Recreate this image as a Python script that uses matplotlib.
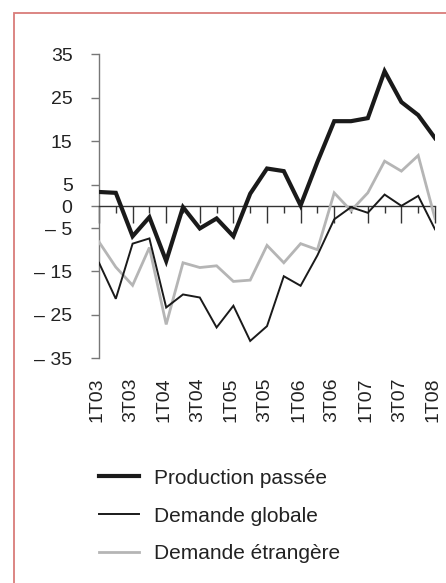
import numpy as np
import matplotlib
matplotlib.use("Agg")
import matplotlib.pyplot as plt
import matplotlib.transforms as mtransforms
from matplotlib.patches import Rectangle

plt.rcParams['font.family'] = ['Liberation Sans', 'DejaVu Sans']

# ---- data ----
quarters = ['1T03', '2T03', '3T03', '4T03', '1T04', '2T04', '3T04', '4T04',
            '1T05', '2T05', '3T05', '4T05', '1T06', '2T06', '3T06', '4T06',
            '1T07', '2T07', '3T07', '4T07', '1T08']
production = [3.3, 3.1, -6.9, -2.5, -12.6, -0.2, -5.1, -2.8, -6.9, 2.9, 8.7,
              8.1, 0.2, 10.2, 19.6, 19.6, 20.3, 31.1, 24.0, 21.0, 15.7]
demande_globale = [-13.0, -21.3, -8.6, -7.4, -23.3, -20.3, -21.0, -27.9, -22.9,
                   -31.0, -27.6, -16.1, -18.3, -11.3, -3.0, -0.2, -1.5, 2.7,
                   0.1, 2.4, -5.3]
demande_etrangere = [-8.2, -14.0, -18.2, -9.5, -27.2, -13.0, -14.1, -13.7, -17.3,
                     -17.0, -9.0, -13.0, -8.6, -10.0, 3.1, -1.0, 3.1, 10.4,
                     8.1, 11.7, -2.8]
ytick_vals = [35, 25, 15, 5, 0, -5, -15, -25, -35]
ytick_labels = ['35', '25', '15', '5', '0', '\u2013 5', '\u2013 15', '\u2013 25', '\u2013 35']

W, H = 446, 583
fig = plt.figure(figsize=(W / 100, H / 100), dpi=100)

# red frame (only top and left edges visible in the crop)
fig.patches.append(Rectangle((14.5 / W, -0.1), 1.2, (H - 13) / H + 0.1,
                             transform=fig.transFigure, fill=False,
                             edgecolor='#d97c79', linewidth=1.3))

ax = fig.add_axes([99 / W, 1 - 358.3 / H, 336 / W, 304 / H])
x = np.arange(len(quarters))

ax.plot(x, demande_etrangere, color='#b5b5b5', lw=2.0, label='Demande étrangère',
        solid_joinstyle='miter', zorder=3)
ax.plot(x, demande_globale, color='#1a1a1a', lw=1.4, label='Demande globale',
        solid_joinstyle='miter', zorder=4)
ax.plot(x, production, color='#1a1a1a', lw=3.0, label='Production passée',
        solid_joinstyle='miter', zorder=5)

ax.set_xlim(0, len(quarters) - 1)
ax.set_ylim(-35, 35)

for s in ['top', 'right']:
    ax.spines[s].set_visible(False)
ax.spines['left'].set_color('#777777')
ax.spines['left'].set_linewidth(1.0)
ax.spines['bottom'].set_position(('data', 0))
ax.spines['bottom'].set_color('#333333')
ax.spines['bottom'].set_linewidth(1.0)

ax.set_yticks(ytick_vals)
ax.set_yticklabels(ytick_labels)
ax.tick_params(axis='y', direction='out', length=6, width=1.0, color='#777777',
               pad=13, labelsize=14, labelcolor='#222222')

ax.set_xticks(x[::2])
ax.set_xticks(x[1::2], minor=True)
ax.tick_params(axis='x', which='major', direction='out', length=12, width=1.0,
               color='#333333', labelbottom=False)
ax.tick_params(axis='x', which='minor', direction='out', length=5, width=1.0,
               color='#333333', labelbottom=False)

# quarter labels under the plot area
trans = mtransforms.blended_transform_factory(ax.transData, ax.transAxes)
for xi, lab in zip(x[::2], quarters[::2]):
    ax.text(xi - 0.12, -0.062, lab, transform=trans, rotation=90, ha='center',
            va='top', fontsize=14, color='#222222', clip_on=False)

handles, labels = ax.get_legend_handles_labels()
order = [2, 1, 0]
leg = fig.legend([handles[i] for i in order], [labels[i] for i in order],
                 loc='upper left', bbox_to_anchor=(80 / W, 1 - 450 / H),
                 frameon=False, fontsize=15, handlelength=1.95, handletextpad=0.68,
                 labelspacing=0.9, labelcolor='#222222')

fig.savefig('out.png', dpi=100)
